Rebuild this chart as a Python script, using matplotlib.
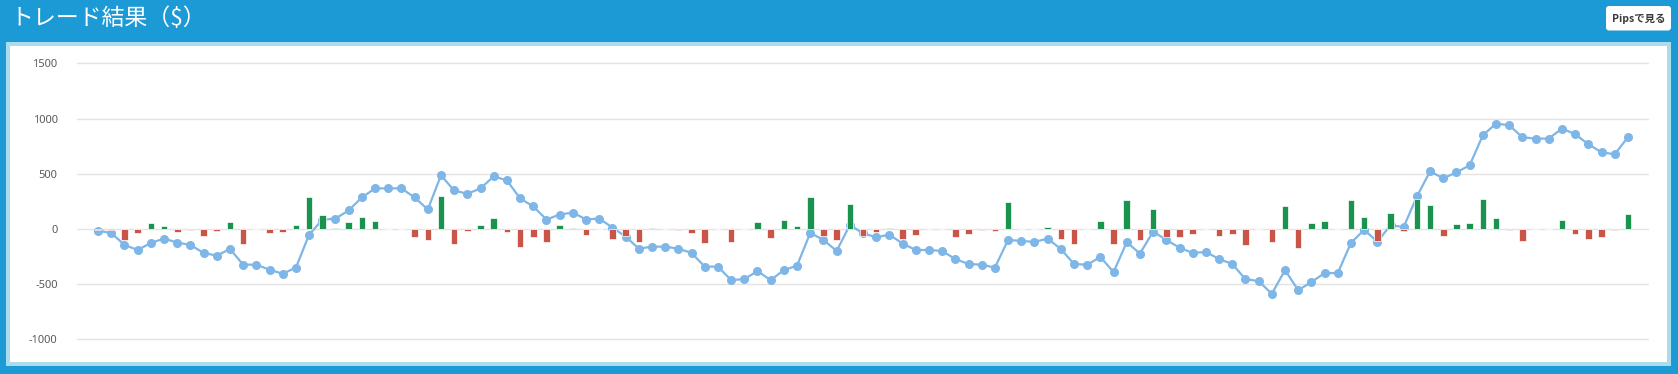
import matplotlib
matplotlib.use("Agg")
from matplotlib import pyplot as plt
from matplotlib.patches import Rectangle, FancyBboxPatch
import numpy as np

# per-trade profit ($) - bars
trade_profit = [
    -8, -10, -100, -36, 55, 27, -30, -10, -65, -20,
    64, -140, 0, -40, -30, 36, 290, 127, 10, 64,
    109, 73, 0, 0, -75, -105, 300, -135, -20, 36,
    100, -30, -160, -70, -115, 36, 10, -52, 0, -90,
    -64, -118, 9, 0, -9, -36, -127, 0, -118, 0,
    64, -82, 82, 27, 290, -67, -100, 227, -64, -27,
    9, -90, -55, 0, 0, -70, -45, -10, -20, 245,
    0, 0, 18, -90, -136, 0, 73, -136, 264, -100,
    182, -73, -73, -45, 0, -64, -45, -145, 0, -118,
    209, -173, 55, 73, 0, 264, 109, -110, 145, -18,
    273, 218, -64, 45, 55, 273, 100, -9, -109, 0,
    0, 82, -45, -90, -73, -9, 136,
]

# running total ($) - line
cum_profit = [
    -15, -38, -145, -191, -127, -88, -124, -145, -218, -242,
    -182, -324, -324, -370, -406, -351, -52, 82, 94, 167,
    285, 367, 367, 367, 285, 176, 485, 348, 318, 367,
    476, 439, 276, 203, 85, 130, 148, 85, 94, 12,
    -70, -179, -161, -161, -179, -218, -342, -342, -464, -455,
    -382, -464, -373, -333, -36, -100, -200, 35, -40, -76,
    -52, -133, -191, -191, -200, -273, -318, -324, -351, -100,
    -109, -118, -88, -182, -318, -324, -255, -391, -120, -224,
    -24, -100, -170, -218, -209, -273, -318, -455, -473, -588,
    -373, -555, -482, -400, -400, -127, -9, -115, 32, 18,
    294, 521, 458, 512, 576, 848, 954, 939, 830, 818,
    818, 909, 858, 767, 694, 676, 830,
]

y_ticks = [-1000, -500, 0, 500, 1000, 1500]

W, H = 1678, 374
BLUE = "#1b9ad6"
FRAME = "#acdcea"
GREEN = "#1a934e"
RED = "#c85547"
LINE = "#7db6e7"

fig = plt.figure(figsize=(W / 100, H / 100), dpi=100, facecolor=BLUE)

# background layer in pixel coordinates (origin top-left)
bg = fig.add_axes([0, 0, 1, 1], zorder=0)
bg.set_xlim(0, W)
bg.set_ylim(H, 0)
bg.axis("off")
bg.add_patch(Rectangle((6, 41.7), 1665, 324, facecolor=FRAME, edgecolor="none"))
bg.add_patch(Rectangle((10, 45.7), 1657, 316, facecolor="white", edgecolor="none"))
bg.add_patch(FancyBboxPatch((1606, 6), 65, 24.5, boxstyle="round,pad=0,rounding_size=3",
                            facecolor="white", edgecolor="none"))
bg.text(10, 18, "トレード結果（$）", color="white", fontsize=16.5,
        family=["Noto Sans CJK JP", "DejaVu Sans"], va="center", ha="left")
bg.text(1638.5, 18.5, "Pipsで見る", color="#3a3a3a", fontsize=7.5, weight="bold",
        family=["Noto Sans CJK JP", "DejaVu Sans"], va="center", ha="center")

# chart area; y range padded a little so the -1000 and 1500 gridlines are not clipped
ymin, ymax = -1020, 1520
top_px, bot_px = 61.1, 341.5
ax = fig.add_axes([77 / W, 1 - bot_px / H, (1649 - 77) / W, (bot_px - top_px) / H], zorder=2)
ax.set_facecolor("none")
x = np.arange(len(cum_profit))

ax.plot(x, cum_profit, color=LINE, lw=1.6, marker="o", markersize=6.5,
        markeredgewidth=0, zorder=2)
colors = [GREEN if v > 0 else RED for v in trade_profit]
ax.bar(x, trade_profit, width=0.5, color=colors, edgecolor="white",
       linewidth=0.5, zorder=3)

ax.set_ylim(ymin, ymax)
ax.set_xlim(-1.6, len(cum_profit) - 1 + 1.6)
ax.set_yticks(y_ticks)
ax.set_yticklabels([str(t) for t in y_ticks], color="#5a5a5a", fontsize=8,
                   family="Noto Sans")
ax.set_xticks([])
ax.tick_params(axis="y", length=0, pad=14)
ax.yaxis.grid(True, color="#e3e3e3", lw=1)
ax.set_axisbelow(True)
for s in ax.spines.values():
    s.set_visible(False)

fig.savefig("out.png", dpi=100, facecolor=BLUE)
